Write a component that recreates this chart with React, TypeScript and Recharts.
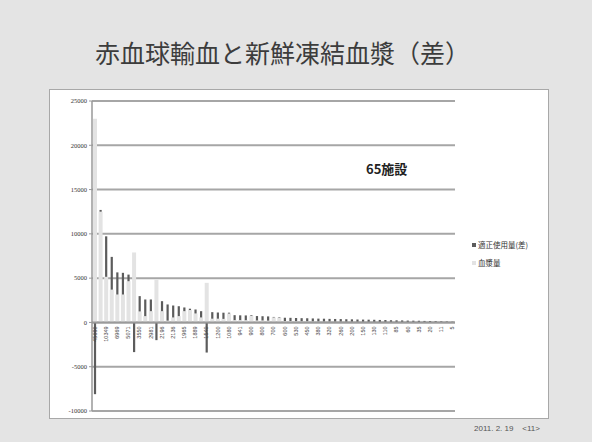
import React from "react";
import { BarChart, Bar, XAxis, YAxis, CartesianGrid, ReferenceLine } from "recharts";

// Facility labels (sorted by usage, descending)
const facilities = [
  "45690", "15826", "10349", "8512", "6969", "6021", "5071", "4630", "3550", "3200",
  "2981", "2650", "2196", "2150", "2136", "2010", "1965", "1920", "1889", "1602",
  "1540", "1249", "1200", "1138", "1080", "960", "941", "920", "900", "823",
  "800", "757", "700", "645", "600", "568", "530", "497", "450", "401",
  "380", "356", "320", "297", "260", "237", "200", "177", "150", "138",
  "130", "123", "110", "98", "85", "71", "60", "45", "35", "27",
  "20", "13", "11", "9", "5",
];

// 血漿量 per facility
const plasma = [
  23000, 12500, 5150, 3700, 3150, 3150, 4650, 7900, 1240, 710,
  1270, 4840, 1270, 200, 560, 710, 1270, 1400, 1010, 560,
  4470, 420, 420, 400, 1000, 260, 260, 250, 750, 220,
  220, 200, 560, 540, 150, 150, 140, 130, 130, 120,
  110, 100, 100, 90, 90, 80, 80, 70, 70, 60,
  60, 50, 50, 40, 40, 40, 30, 30, 30, 20,
  20, 20, 10, 10, 10,
];

// 適正使用量(差) per facility
const diff = [
  -8100, 200, 4570, 3700, 2500, 2450, 750, -3350, 1730, 1880,
  1320, -2000, 1130, 1830, 1350, 1120, 420, 150, 450, 710,
  -3400, 740, 700, 700, 100, 560, 540, 540, 80, 500,
  480, 480, 60, 60, 380, 370, 360, 350, 340, 330,
  320, 320, 300, 300, 290, 280, 270, 260, 250, 250,
  240, 230, 220, 210, 200, 190, 180, 170, 160, 150,
  140, 130, 120, 100, 80,
];

const yTicks = [-10000, -5000, 0, 5000, 10000, 15000, 20000, 25000];

const data = facilities.map((name, i) => ({ name, plasma: plasma[i], diff: diff[i] }));

const CHART_W = 498;
const CHART_H = 328;
const MARGIN = { top: 11, right: 93, bottom: 6, left: 12 };
const X_AXIS_H = 1;
const PLOT_H = CHART_H - MARGIN.top - MARGIN.bottom - X_AXIS_H;
const Y_MIN = -10000;
const Y_MAX = 25000;
const ZERO_Y = MARGIN.top + (PLOT_H * Y_MAX) / (Y_MAX - Y_MIN);

const LIGHT = "#e3e3e3";
const DARK = "#5c5c5c";

const legendItems = [
  { name: "適正使用量(差)", color: DARK },
  { name: "血漿量", color: LIGHT },
];

// Narrow column for the difference series
const DarkBar = (props: any) => {
  const { x, y, width, height, fill } = props;
  if (height == null || width == null) return null;
  const top = Math.min(y, y + height);
  const h = Math.abs(height);
  const w = width * 0.55;
  return <rect x={x + (width - w) / 2} y={top} width={w} height={h} fill={fill} />;
};

// Category labels written vertically just under the zero line
const XTick = (props: any) => {
  const { x, payload } = props;
  const ty = ZERO_Y + 4;
  return (
    <text
      x={x}
      y={ty}
      transform={`rotate(-90, ${x}, ${ty})`}
      textAnchor="end"
      dominantBaseline="central"
      fontSize={5.5}
      fill="#444"
      fontFamily="Liberation Sans, sans-serif"
    >
      {payload.value}
    </text>
  );
};

export default function App() {
  return (
    <div
      style={{
        position: "fixed",
        left: 0,
        top: 0,
        width: 592,
        height: 442,
        background: "#e4e4e4",
        fontFamily: "'Noto Sans CJK JP', sans-serif",
        overflow: "hidden",
      }}
    >
      <div
        style={{
          position: "absolute",
          left: 0,
          width: 565,
          top: 37,
          textAlign: "center",
          fontSize: 25,
          color: "#3c3c3c",
          lineHeight: "30px",
        }}
      >
        赤血球輸血と新鮮凍結血漿（差）
      </div>
      <div
        style={{
          position: "absolute",
          left: 49,
          top: 89,
          width: CHART_W,
          height: CHART_H,
          background: "#ffffff",
          border: "1px solid #a8a8a8",
        }}
      >
        <BarChart
          width={CHART_W}
          height={CHART_H}
          data={data}
          margin={MARGIN}
          stackOffset="sign"
          barCategoryGap="18%"
        >
          <CartesianGrid vertical={false} stroke="#a6a6a6" strokeWidth={2} />
          <XAxis
            dataKey="name"
            interval={1}
            height={X_AXIS_H}
            tick={<XTick />}
            tickLine={false}
            axisLine={false}
          />
          <YAxis
            domain={[Y_MIN, Y_MAX]}
            ticks={yTicks}
            width={30}
            tick={{ fontSize: 6.5, fill: "#333", fontFamily: "Liberation Serif, serif" }}
            tickSize={3}
            tickLine={{ stroke: "#999" }}
            axisLine={{ stroke: "#999", strokeWidth: 1.5 }}
            interval={0}
          />
          <ReferenceLine y={0} stroke="#9a9a9a" strokeWidth={2} />
          <Bar dataKey="plasma" name="血漿量" stackId="a" fill={LIGHT} isAnimationActive={false} />
          <Bar
            dataKey="diff"
            name="適正使用量(差)"
            stackId="a"
            fill={DARK}
            shape={<DarkBar />}
            isAnimationActive={false}
          />
          <text x={316} y={84} fontSize={13} fontWeight="bold" fill="#222" fontFamily="'Noto Sans CJK JP', sans-serif">
            65施設
          </text>
        </BarChart>
        <div
          style={{
            position: "absolute",
            left: 422,
            top: 146,
            fontSize: 7.5,
            color: "#333",
            lineHeight: "18px",
          }}
        >
          {legendItems.map((it) => (
            <div key={it.name} style={{ display: "flex", alignItems: "center" }}>
              <span style={{ display: "inline-block", width: 4, height: 4, background: it.color, marginRight: 2 }} />
              {it.name}
            </div>
          ))}
        </div>
      </div>
      <div
        style={{
          position: "absolute",
          left: 474,
          top: 424,
          fontSize: 8,
          color: "#555",
          fontFamily: "Liberation Sans, sans-serif",
          whiteSpace: "pre",
        }}
      >
        {"2011. 2. 19    <11>"}
      </div>
    </div>
  );
}
